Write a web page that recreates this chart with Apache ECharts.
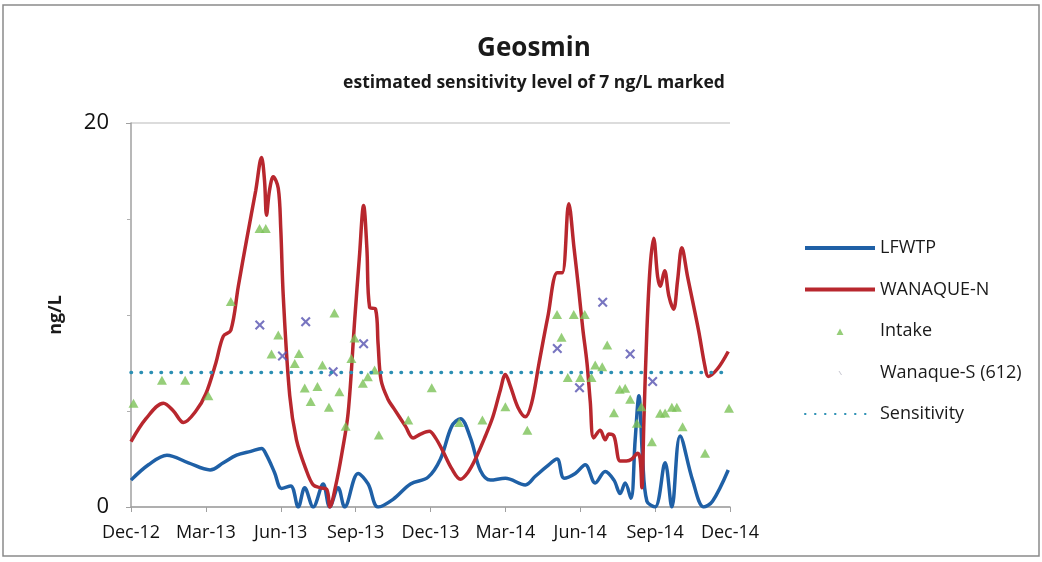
<!DOCTYPE html>
<html>
<head>
<meta charset="utf-8">
<script src="https://cdn.jsdelivr.net/npm/echarts@6/dist/echarts.min.js"></script>
<style>
html,body{margin:0;padding:0;background:#fff;}
#chart{width:1042px;height:562px;}
</style>
</head>
<body>
<div id="chart"></div>
<script>
// x values are months counted from Dec-12 (0) to Dec-14 (24)
const tickLabels = ['Dec-12','Mar-13','Jun-13','Sep-13','Dec-13','Mar-14','Jun-14','Sep-14','Dec-14'];
const seriesNames = ['LFWTP','WANAQUE-N','Intake','Wanaque-S (612)','Sensitivity'];

const lfwtp = [
  [0,1.4],[0.7,2.2],[1.44,2.7],[2.3,2.3],[3.17,1.93],[3.7,2.3],[4.23,2.7],[4.8,2.9],[5.23,3.05],[5.43,2.7],
  [5.75,1.8],[6.03,0.97],[6.4,1.1],[6.7,0],[6.96,1.0],[7.3,0],[7.7,1.2],[7.96,0],[8.3,1.0],[8.56,0],
  [9.1,1.75],[9.5,1.2],[9.9,0],[10.5,0.4],[11.2,1.2],[11.9,1.55],[12.4,2.5],[12.85,4.2],[13.2,4.6],[13.6,3.6],
  [14.0,1.9],[14.4,1.4],[15.0,1.5],[15.8,1.15],[16.2,1.6],[16.65,2.1],[17.07,2.5],[17.35,1.5],[17.8,1.75],[18.2,2.2],
  [18.6,1.25],[19.0,1.85],[19.35,1.4],[19.6,0.7],[19.8,1.25],[20.03,0.45],[20.2,3.5],[20.35,5.8],[20.5,2.5],[20.67,0.3],
  [21.0,0],[21.4,2.3],[21.67,0],[22.0,3.7],[22.5,1.4],[22.95,0],[23.3,0.3],[23.93,1.93]
];
const wanaqueN = [
  [0,3.4],[0.6,4.6],[1.3,5.4],[1.7,5.0],[2.1,4.4],[2.6,5.0],[3.0,5.9],[3.4,7.5],[3.7,8.9],[4.0,9.2],
  [4.3,11.5],[4.63,13.9],[5.0,16.5],[5.23,18.2],[5.35,17.0],[5.43,15.2],[5.55,16.5],[5.7,17.2],[5.9,16.6],[6.0,14.5],
  [6.1,11.0],[6.36,5.8],[6.63,3.5],[7.0,2.0],[7.3,1.15],[7.6,1.0],[7.85,0.9],[7.97,0],[8.2,1.1],[8.45,2.8],
  [8.7,4.9],[8.96,9.7],[9.15,13.0],[9.32,15.7],[9.45,13.5],[9.56,10.4],[9.8,10.3],[9.9,8.5],[10.02,6.6],[10.3,5.6],
  [10.55,5.1],[11.0,4.2],[11.3,3.6],[11.6,3.8],[11.95,3.95],[12.2,3.6],[12.5,2.9],[12.85,2.0],[13.2,1.45],[13.5,1.8],
  [13.8,2.5],[14.2,3.7],[14.5,4.7],[14.8,6.1],[15.0,6.9],[15.2,6.3],[15.5,5.2],[15.8,4.7],[16.05,5.4],[16.35,7.5],
  [16.7,9.9],[17.08,12.2],[17.28,12.2],[17.54,15.8],[17.75,13.5],[17.94,11.3],[18.1,9.3],[18.27,7.5],[18.4,5.5],[18.54,3.6],
  [18.8,4.0],[19.0,3.5],[19.15,3.8],[19.35,3.7],[19.6,2.4],[19.85,2.4],[20.07,2.5],[20.3,2.8],[20.4,2.5],[20.47,1.0],
  [20.55,4.5],[20.67,9.2],[20.8,12.5],[20.94,14.0],[21.1,12.0],[21.2,11.5],[21.38,12.3],[21.55,11.0],[21.74,10.3],[21.9,11.8],
  [22.07,13.5],[22.3,12.0],[22.74,9.2],[23.0,7.3],[23.13,6.8],[23.5,7.2],[23.93,8.1]
];
const intake = [
  [0.1,5.4],[1.24,6.6],[2.17,6.6],[3.1,5.8],[4.0,10.7],[5.15,14.5],[5.4,14.5],[5.63,7.97],[5.9,8.96],[6.56,7.48],
  [6.73,8.0],[6.96,6.2],[7.2,5.5],[7.47,6.27],[7.67,7.4],[7.93,5.19],[8.15,10.1],[8.35,6.0],[8.6,4.2],[8.83,7.74],
  [8.96,8.8],[9.29,6.44],[9.49,6.79],[9.76,7.14],[9.93,3.75],[11.11,4.53],[12.05,6.21],[13.15,4.4],[14.08,4.53],[15.0,5.22],
  [15.88,4.0],[17.07,10.03],[17.25,8.84],[17.74,10.03],[18.18,10.03],[17.5,6.75],[18.0,6.75],[18.45,6.75],[18.6,7.4],[18.88,7.3],
  [19.08,8.44],[19.35,4.91],[19.58,6.13],[19.8,6.18],[20.0,5.61],[20.27,4.36],[20.45,5.22],[20.87,3.4],[21.2,4.88],[21.4,4.9],
  [21.67,5.19],[21.87,5.19],[22.1,4.18],[23.0,2.8],[23.96,5.14]
];
const wanaqueS = [
  [5.16,9.48],[6.07,7.86],[7.0,9.65],[8.1,7.05],[9.32,8.5],[17.08,8.26],[17.97,6.21],[18.9,10.66],[20.0,7.97],[20.9,6.53]
];
const sensitivity = [[0,7],[24,7]];

const FONT = 'Open Sans';
const xShape = 'path://M0,1.5L1.5,0L5,3.5L8.5,0L10,1.5L6.5,5L10,8.5L8.5,10L5,6.5L1.5,10L0,8.5L3.5,5Z';
// legend icons: tiny mark inside a 70x14 box (corner anchors keep the scale at 1)
const boxAnchors = 'M0,0L0.01,0L0,0.01Z M70,14L69.99,14L70,13.99Z ';
const intakeIcon = 'path://' + boxAnchors + 'M31.5,11L35,4.5L38.5,11Z';
const wsIcon = 'path://' + boxAnchors + 'M33.5,5.5L34.5,5.5L37,9.5L36,9.5Z';

const chart = echarts.init(document.getElementById('chart'), null, {renderer: 'canvas'});
chart.setOption({
  backgroundColor: '#fff',
  animation: false,
  textStyle: {fontFamily: FONT},
  graphic: [{
    type: 'rect', shape: {x: 3, y: 5, width: 1036, height: 551},
    style: {fill: 'none', stroke: '#8a8a8a', lineWidth: 1.5}, silent: true
  }],
  title: [
    {text: 'Geosmin', left: 529, top: 31, textAlign: 'center',
     textStyle: {fontFamily: FONT, fontSize: 26, fontWeight: 'bold', color: '#1a1a1a'}},
    {text: 'estimated sensitivity level of 7 ng/L marked', left: 529, top: 69, textAlign: 'center',
     textStyle: {fontFamily: FONT, fontSize: 17.5, fontWeight: 'bold', color: '#1a1a1a'}}
  ],
  legend: {
    orient: 'vertical', left: 798, top: 232, itemWidth: 70, itemHeight: 14, itemGap: 19.5,
    textStyle: {fontFamily: FONT, fontSize: 18, color: '#1a1a1a', lineHeight: 22},
    data: [
      {name: seriesNames[0], itemStyle: {opacity: 0}, lineStyle: {width: 4}},
      {name: seriesNames[1], itemStyle: {opacity: 0}, lineStyle: {width: 4}},
      {name: seriesNames[2], icon: intakeIcon},
      {name: seriesNames[3], icon: wsIcon, itemStyle: {color: '#b8b8c4'}},
      {name: seriesNames[4], itemStyle: {opacity: 0}}
    ]
  },
  grid: {left: 131, right: 312, top: 123, bottom: 55},
  xAxis: {
    type: 'value', min: 0, max: 24, interval: 3,
    axisLine: {lineStyle: {color: '#a0a0a0', width: 1.5}},
    axisTick: {show: true, length: 5, lineStyle: {color: '#a0a0a0'}},
    splitLine: {show: false},
    axisLabel: {
      fontFamily: FONT, fontSize: 18, color: '#111', margin: 17,
      formatter: v => tickLabels[Math.round(v / 3)]
    }
  },
  yAxis: {
    type: 'value', min: 0, max: 20, interval: 20,
    name: 'ng/L', nameLocation: 'middle', nameRotate: 90, nameGap: 66,
    nameTextStyle: {fontFamily: FONT, fontSize: 18, fontWeight: 'bold', color: '#1a1a1a'},
    axisLine: {show: true, lineStyle: {color: '#a0a0a0', width: 1.5}},
    axisTick: {show: true, length: 5, lineStyle: {color: '#a0a0a0'}},
    minorTick: {show: true, splitNumber: 4, length: 4, lineStyle: {color: '#b0b0b0'}},
    splitLine: {show: true, lineStyle: {color: '#d0d0d0', width: 1.5}},
    axisLabel: {fontFamily: FONT, fontSize: 22, color: '#111', margin: 22}
  },
  series: [
    {name: 'LFWTP', type: 'line', data: lfwtp, smooth: 0.35, symbol: 'none',
     lineStyle: {color: '#1f60a6', width: 3.5}, itemStyle: {color: '#1f60a6'}, z: 2},
    {name: 'WANAQUE-N', type: 'line', data: wanaqueN, smooth: 0.35, symbol: 'none',
     lineStyle: {color: '#b8272e', width: 3.5}, itemStyle: {color: '#b8272e'}, z: 3},
    {name: 'Intake', type: 'scatter', data: intake, symbol: 'triangle', symbolSize: [10, 9],
     itemStyle: {color: '#7cc258'}, z: 4},
    {name: 'Wanaque-S (612)', type: 'scatter', data: wanaqueS, symbol: xShape, symbolSize: 10,
     itemStyle: {color: '#5653b0'}, z: 5},
    {name: 'Sensitivity', type: 'line', data: sensitivity, symbol: 'none',
     lineStyle: {color: '#2b8fb3', width: 3.5, type: [0.5, 9.5], cap: 'round'},
     itemStyle: {color: '#2b8fb3'}, z: 6}
  ]
});
</script>
</body>
</html>
